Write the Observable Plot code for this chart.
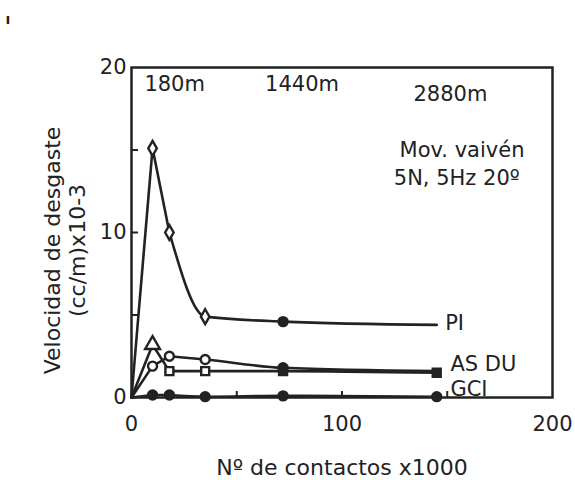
<!DOCTYPE html>
<html><head><meta charset="utf-8">
<script src="https://cdn.jsdelivr.net/npm/d3@7"></script>
<script src="https://cdn.jsdelivr.net/npm/@observablehq/plot@0.6"></script>
<style>body{margin:0;background:#fff;font-family:"DejaVu Sans",sans-serif}</style>
</head><body><div id="chart"></div>
<script>
const contactos = [0, 10, 18, 35, 72, 145];
const PI = [0, 15.1, 10.0, 4.9, 4.6, 4.4];
const AS = [0, 3.2, 1.6, 1.6, 1.6, 1.5];
const DU = [0, 1.9, 2.5, 2.3, 1.8, 1.6];
const GCI = [0, 0.15, 0.15, 0.05, 0.1, 0.05];
const seriesNames = ["PI", "AS", "DU", "GCI"];
const seriesValues = [PI, AS, DU, GCI];
const xTicks = [0, 100, 200];
const yTicks = [0, 10, 20];
const notes = [
  {x: 20.5, y: 19.0, text: "180m"},
  {x: 81, y: 19.0, text: "1440m"},
  {x: 151.5, y: 18.4, text: "2880m"},
  {x: 157, y: 15.0, text: "Mov. vaivén"},
  {x: 154.5, y: 13.3, text: "5N, 5Hz 20º"}
];
const endLabels = [
  {x: 149, y: 4.5, text: "PI"},
  {x: 151.5, y: 2.0, text: "AS DU"},
  {x: 151.5, y: 0.5, text: "GCI"}
];

const rows = [];
seriesNames.forEach((s, i) => contactos.forEach((c, j) => rows.push({serie: s, i: j, x: c, y: seriesValues[i][j]})));
const ink = "#222";
function markerStyle(r) {
  if (r.i === 0) return null;
  if (r.serie === "PI") {
    if (r.i === 5) return null;
    return r.i === 4 ? {symbol: "circle", fill: ink} : {symbol: "diamond", fill: "white"};
  }
  if (r.serie === "AS") {
    if (r.i === 1) return {symbol: "triangle", fill: "white"};
    return {symbol: "square", fill: r.i >= 4 ? ink : "white"};
  }
  if (r.serie === "DU") {
    if (r.i === 5) return null;
    return {symbol: "circle", fill: r.i === 4 ? ink : "white"};
  }
  return {symbol: "circle", fill: ink};
}
const markers = rows.map(r => ({...r, st: markerStyle(r)})).filter(r => r.st);
const symbolKinds = ["circle", "diamond", "triangle", "square"];

const FONT = '"DejaVu Sans", sans-serif';
const chart = Plot.plot({
  width: 575, height: 480,
  marginLeft: 131, marginRight: 23, marginTop: 67, marginBottom: 83,
  style: {fontFamily: FONT, fontSize: "21px", color: ink, background: "white"},
  x: {domain: [0, 200]},
  y: {domain: [0, 20]},
  marks: [
    Plot.frame({stroke: ink, strokeWidth: 2.5}),
    Plot.axisY({ticks: yTicks, tickSize: 0, tickPadding: 5, tickFormat: d => d, label: null, fontSize: 21}),
    Plot.axisY({ticks: [5, 10, 15], tickSize: -7, tickFormat: () => "", label: null, stroke: ink, strokeWidth: 2}),
    Plot.axisX({ticks: xTicks, tickSize: 0, tickPadding: 19, tickFormat: d => d, label: null, fontSize: 21}),
    Plot.axisX({ticks: [50, 100, 150], tickSize: -6, tickFormat: () => "", label: null, stroke: ink, strokeWidth: 2}),
    // rise segments (straight) and decay segments (smooth)
    Plot.line(rows.filter(r => r.i <= 2), {x: "x", y: "y", z: "serie", curve: "linear", stroke: ink, strokeWidth: 2.6}),
    Plot.line(rows.filter(r => r.i >= 2), {x: "x", y: "y", z: "serie", curve: "monotone-x", stroke: ink, strokeWidth: 2.6}),
    ...symbolKinds.flatMap(sym => ["white", ink].map(f => Plot.dot(markers.filter(m => m.st.symbol === sym && m.st.fill === f), {
      x: "x", y: "y", symbol: () => sym, r: sym === "triangle" ? 5.5 : 4.5, fill: f, stroke: ink, strokeWidth: 2.4
    }))),
    Plot.text(notes, {x: "x", y: "y", text: "text", fontSize: 21, fill: ink}),
    Plot.text(endLabels, {x: "x", y: "y", text: "text", textAnchor: "start", fontSize: 21, fill: ink}),
    Plot.text(["Velocidad de desgaste\n(cc/m)x10-3"], {frameAnchor: "left", textAnchor: "middle", lineAnchor: "middle", dx: -67, dy: 18, rotate: -90, lineHeight: 1.14, fontSize: 22, fill: ink, text: d => d}),
    Plot.text(["Nº de contactos x1000"], {frameAnchor: "bottom", textAnchor: "middle", lineAnchor: "middle", dy: 70, fontSize: 22, fill: ink, text: d => d})
  ]
});
d3.select(chart).append("text").attr("x", 8).attr("y", 24).attr("font-size", 14).attr("font-weight", "bold").attr("fill", ink).text("ı");
document.getElementById("chart").appendChild(chart);
</script>
</body></html>
